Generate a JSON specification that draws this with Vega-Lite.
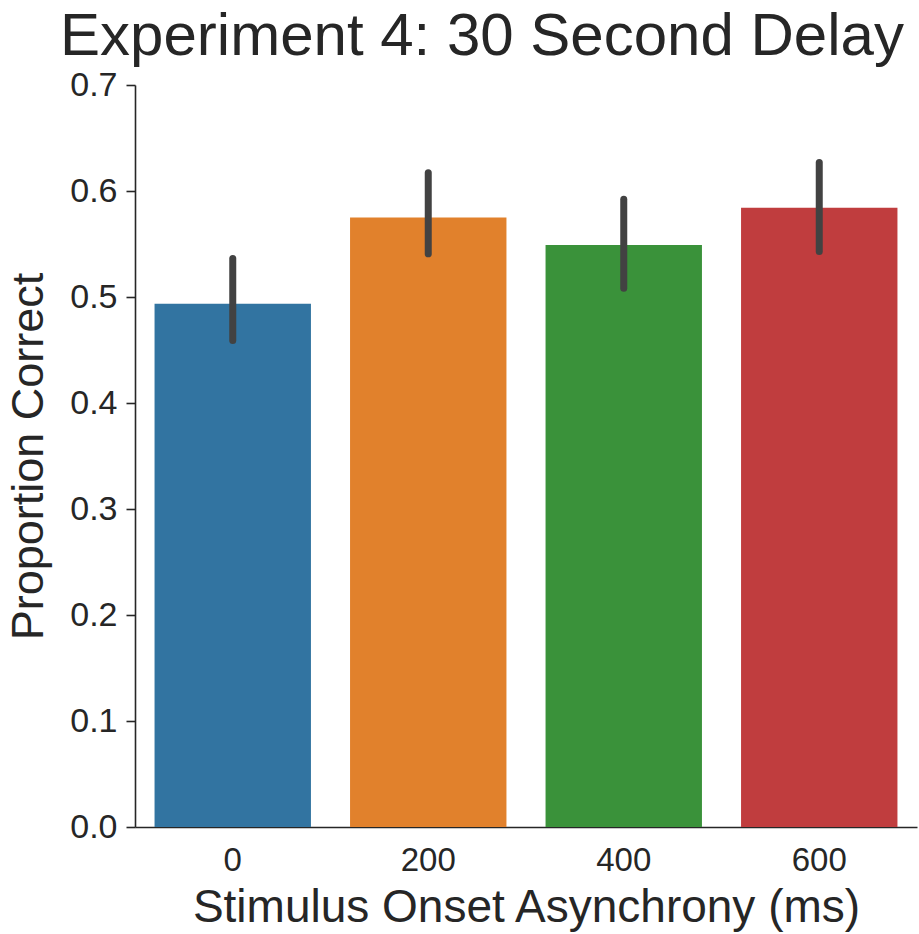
{
  "$schema": "https://vega.github.io/schema/vega-lite/v6.json",
  "width": 782,
  "height": 742,
  "autosize": "none",
  "padding": {"left": 135, "top": 85, "right": 2, "bottom": 107},
  "background": "white",
  "config": {"view": {"stroke": null}, "font": "Liberation Sans"},
  "title": {
    "text": "Experiment 4: 30 Second Delay",
    "fontSize": 60,
    "font": "Liberation Sans",
    "fontWeight": "normal",
    "color": "#262626",
    "anchor": "middle",
    "frame": "group",
    "dx": -44,
    "dy": 4
  },
  "data": {
    "values": [
      {"soa": 0, "mean": 0.4937, "lo": 0.459, "hi": 0.5363},
      {"soa": 200, "mean": 0.5751, "lo": 0.5407, "hi": 0.6173},
      {"soa": 400, "mean": 0.549, "lo": 0.5083, "hi": 0.5922},
      {"soa": 600, "mean": 0.5842, "lo": 0.5429, "hi": 0.6268}
    ]
  },
  "encoding": {
    "x": {
      "field": "soa",
      "type": "ordinal",
      "scale": {"paddingInner": 0.2, "paddingOuter": 0.1},
      "axis": {
        "title": "Stimulus Onset Asynchrony (ms)",
        "titleFontSize": 46,
        "titleFontWeight": "normal",
        "titleColor": "#262626",
        "titlePadding": 8,
        "labelFontSize": 33,
        "labelColor": "#262626",
        "labelAngle": 0,
        "labelPadding": 17,
        "ticks": false,
        "domainColor": "#262626",
        "domainWidth": 1.6
      }
    }
  },
  "layer": [
    {
      "mark": {"type": "bar"},
      "encoding": {
        "y": {
          "field": "mean",
          "type": "quantitative",
          "scale": {"domain": [0, 0.7]},
          "axis": {
            "title": "Proportion Correct",
            "titleFontSize": 45,
            "titleFontWeight": "normal",
            "titleColor": "#262626",
            "titlePadding": 18,
            "labelFontSize": 34,
            "labelColor": "#262626",
            "labelPadding": 9,
            "values": [0, 0.1, 0.2, 0.3, 0.4, 0.5, 0.6, 0.7],
            "format": ".1f",
            "grid": false,
            "tickSize": 9,
            "tickWidth": 1.6,
            "tickColor": "#262626",
            "domainColor": "#262626",
            "domainWidth": 1.6
          }
        },
        "color": {
          "field": "soa",
          "type": "ordinal",
          "scale": {"range": ["#3274a1", "#e1812c", "#3a923a", "#c03d3e"]},
          "legend": null
        }
      }
    },
    {
      "mark": {"type": "rule", "strokeWidth": 7, "strokeCap": "round", "color": "#424242"},
      "encoding": {
        "y": {"field": "lo", "type": "quantitative"},
        "y2": {"field": "hi"}
      }
    }
  ]
}
